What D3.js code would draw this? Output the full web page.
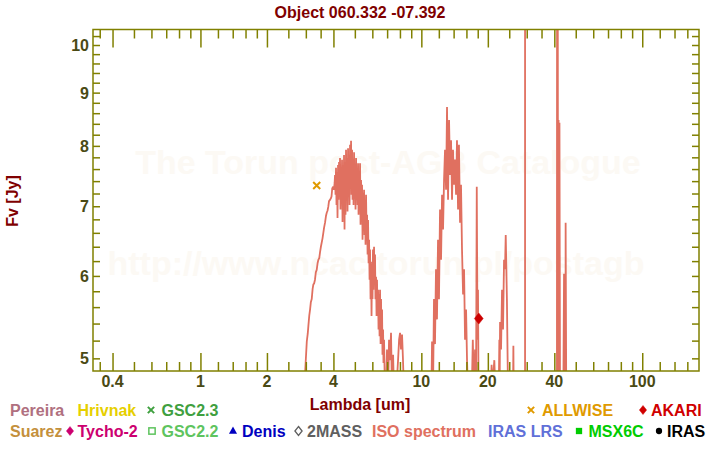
<!DOCTYPE html>
<html><head><meta charset="utf-8">
<script src="https://cdn.jsdelivr.net/npm/d3@7"></script>
<style>
html,body{margin:0;padding:0;background:#fff;}
svg{display:block;font-family:"Liberation Sans",Arial,Helvetica,sans-serif;font-weight:bold;}
</style></head>
<body>
<svg id="chart" width="720" height="450"></svg>
<script>
// ---------------- DATA ----------------
const title = "Object 060.332 -07.392";
const xLabel = "Lambda [um]";
const yLabel = "Fv [Jy]";
const xDomain = [0.3263, 180.7];
const yDomain = [4.862, 10.349];
const xMajorTicks = [0.4, 1, 2, 4, 10, 20, 40, 100];
const xTickLabels = ["0.4", "1", "2", "4", "10", "20", "40", "100"];
const xMinorTicks = [0.35, 0.5, 0.6, 0.7, 0.8, 0.9, 1.2, 1.4, 1.6, 1.8, 2.5, 3, 3.5,
  5, 6, 7, 8, 9, 12, 14, 16, 18, 25, 30, 35, 50, 60, 70, 80, 90, 120, 140, 160];
const yMajorTicks = [5, 6, 7, 8, 9, 10];
const yTickLabels = ["5", "6", "7", "8", "9", "10"];
const yMinorTicks = [5.2, 5.4, 5.6, 5.8, 6.2, 6.4, 6.6, 6.8, 7.2, 7.4, 7.6, 7.8,
  8.2, 8.4, 8.6, 8.8, 9.2, 9.4, 9.6, 9.8, 10.2];

// photometry
const allwiseWave = [3.36];
const allwiseFlux = [7.33];
const akariWave = [18.2];
const akariFlux = [5.46];

// ISO spectrum (wavelength um, flux Jy)
const isoWave = [
 2.96, 2.98, 3.03, 3.06, 3.08, 3.11, 3.135, 3.16, 3.19, 3.22, 3.245, 3.27, 3.30, 3.33, 3.36, 3.39, 3.42, 3.45, 3.478, 3.51, 3.54, 3.57, 3.60, 3.63, 3.665, 3.70, 3.73, 3.76, 3.79, 3.82, 3.86, 3.89, 3.92, 3.95, 3.99, 4.02, 4.05,
 4.067, 4.088, 4.109, 4.13, 4.152, 4.174, 4.196, 4.218, 4.240, 4.262, 4.284, 4.306, 4.329, 4.352, 4.375, 4.398, 4.421, 4.444, 4.467, 4.491, 4.514, 4.537, 4.561, 4.585, 4.609, 4.633, 4.658, 4.682, 4.707, 4.731, 4.756, 4.781, 4.806, 4.831, 4.857, 4.882, 4.908, 4.933, 4.959, 4.985, 5.011, 5.037, 5.064, 5.090, 5.117, 5.143, 5.170, 5.197, 5.224, 5.251, 5.279, 5.306, 5.334, 5.362, 5.390, 5.418,
 5.45, 5.475, 5.504, 5.53, 5.56, 5.59, 5.619, 5.65, 5.68, 5.71, 5.738, 5.77, 5.80, 5.83, 5.858, 5.89, 5.92, 5.95, 5.982, 6.01, 6.04, 6.07, 6.108, 6.14, 6.17, 6.20, 6.237, 6.27, 6.30, 6.33, 6.368, 6.40, 6.43, 6.47, 6.502, 6.54, 6.57, 6.60, 6.64, 6.67, 6.71, 6.74, 6.779, 6.85,
 6.922, 6.99, 7.068, 7.14, 7.217, 7.29, 7.369, 7.45, 7.524, 7.68, 7.845, 7.93, 8.01, 8.09, 8.178, 8.26, 8.351, 8.5,
 10.8, 11.1, 11.18, 11.3, 11.41, 11.53, 11.65, 11.77, 11.90, 12.02, 12.15, 12.28, 12.41, 12.54, 12.67, 12.80, 12.94, 13.07, 13.21, 13.35, 13.49, 13.63, 13.77, 13.91, 14.06, 14.20, 14.36, 14.50, 14.66, 14.80, 14.97, 15.12, 15.28, 15.45, 15.61, 15.77, 15.94, 16.10, 16.27,
 16.9, 17.1, 17.32, 17.5, 17.69, 17.82, 17.96, 18.05, 18.16,
 20.6, 20.8, 21.0, 21.4, 21.6,
 22.4, 22.55, 22.62, 22.72, 22.95, 23.19, 23.43, 23.68, 23.92, 24.1, 24.4, 24.55, 24.69,
 26.0, 26.1, 26.2,
 29.48, 29.48, 29.48, 41.1,
 41.15, 41.3, 41.45, 41.6, 41.8, 42.02, 42.2, 42.46, 42.6, 43.9, 44.26, 44.5, 44.95, 45.0, 45.3
];
const isoFlux = [
 4.60, 4.86, 5.19, 5.28, 5.37, 5.50, 5.57, 5.66, 5.70, 5.83, 5.89, 5.90, 5.95, 6.05, 6.08, 6.17, 6.22, 6.24, 6.32, 6.40, 6.46, 6.52, 6.60, 6.68, 6.75, 6.85, 6.90, 6.93, 6.99, 7.08, 7.10, 7.12, 7.15, 7.28, 7.31, 7.26, 7.37,
 7.50, 7.18, 7.62, 7.02, 7.55, 6.82, 7.67, 7.10, 7.72, 7.26, 7.79, 6.95, 7.59, 7.18, 7.76, 6.76, 7.67, 7.02, 7.84, 6.65, 7.72, 6.87, 7.93, 7.10, 7.79, 6.92, 7.96, 7.26, 7.84, 7.02, 8.02, 7.34, 8.09, 7.18, 7.93, 7.10, 7.76, 7.02, 7.89, 7.18, 7.67, 6.95, 7.79, 7.10, 7.59, 7.02, 7.70, 6.87, 7.50, 7.05, 7.70, 6.72, 7.42, 6.95, 7.34, 6.50,
 7.21, 6.70, 7.26, 6.57, 7.02, 6.43, 7.18, 6.62, 6.87, 6.29, 6.79, 6.17, 6.50, 5.95, 6.36, 5.70, 6.15, 5.49, 6.19, 5.70, 6.36, 5.82, 6.40, 5.89, 6.29, 5.70, 5.99, 5.49, 5.95, 5.57, 5.82, 5.33, 5.76, 5.25, 5.82, 5.16, 5.70, 5.21, 5.57, 5.04, 5.33, 4.95, 5.21, 4.60,
 4.60, 5.10, 4.60, 5.21, 4.98, 5.29, 4.60, 5.04, 4.60, 4.60, 4.98, 5.21, 5.29, 5.10, 5.27, 4.98, 4.60, 4.50,
 4.50, 4.60, 5.19, 4.70, 5.70, 5.16, 6.09, 5.45, 6.50, 5.70, 6.95, 6.22, 7.18, 6.65, 7.42, 7.93, 7.26, 8.72, 7.10, 8.47, 7.50, 8.10, 7.10, 7.93, 7.34, 7.76, 7.18, 8.10, 6.95, 8.02, 6.75, 7.34, 6.36, 5.76, 6.09, 5.21, 5.57, 4.98, 4.60,
 4.60, 5.21, 4.60, 5.10, 4.70, 7.31, 5.21, 5.82, 4.60,
 4.60, 4.93, 4.70, 4.98, 4.70,
 4.60, 5.21, 4.70, 5.42, 5.10, 5.82, 5.33, 6.22, 6.09, 6.57, 5.70, 5.10, 4.60,
 4.60, 5.14, 4.60,
 4.50, 12.0, 4.50, 4.50,
 12.0, 4.50, 12.0, 4.50, 8.47, 4.60, 8.42, 4.50, 4.50, 4.50, 6.03, 4.50, 4.50, 6.75, 4.50
];

// legend
const legendNames = ["Pereira", "Hrivnak", "GSC2.3", "ALLWISE", "AKARI",
  "Suarez", "Tycho-2", "GSC2.2", "Denis", "2MASS", "ISO spectrum", "IRAS LRS", "MSX6C", "IRAS"];
const legendColors = ["#b07080", "#e6cf00", "#3fa03f", "#e09a00", "#d00000",
  "#c4903c", "#cc0070", "#5ec45e", "#0000c0", "#606060", "#e07060", "#6070d8", "#00cc00", "#000000"];
const legendSymbols = ["none", "none", "cross", "cross", "diamond",
  "none", "diamond", "square-open", "triangle", "diamond-open", "none", "none", "square", "circle"];

// ---------------- LAYOUT ----------------
const W = 720, H = 450;
const plot = {left: 93, right: 699, top: 29.5, bottom: 371};
const axisColor = "#808000";
const tickTextColor = "#4a4a14";
const titleColor = "#800000";
const isoColor = "#e07060";
// legend layout: [textX, symbolX, baselineY]
const legendLayout = [
  [10, 0, 416], [77.5, 0, 416], [161.5, 151, 416], [542, 531, 416], [651, 643, 416],
  [10, 0, 437], [77.5, 70, 437], [161.5, 152, 437], [242, 233, 437], [307, 298.5, 437],
  [372, 0, 437], [488, 0, 437], [588.5, 579, 437], [667, 659, 437]
];

const svg = d3.select("#chart");
const x = d3.scaleLog().domain(xDomain).range([plot.left, plot.right]);
const y = d3.scaleLog().domain(yDomain).range([plot.bottom, plot.top]);

// watermark
svg.append("text").attr("x", 388).attr("y", 174).attr("text-anchor", "middle")
  .attr("font-size", 34).attr("fill", "#fcf9f4").text("The Torun post-AGB Catalogue");
svg.append("text").attr("x", 376).attr("y", 275).attr("text-anchor", "middle")
  .attr("font-size", 34).attr("fill", "#fcf9f4").text("http://www.ncac.torun.pl/postagb");

// clip
svg.append("clipPath").attr("id", "clip").append("rect")
  .attr("x", plot.left).attr("y", plot.top)
  .attr("width", plot.right - plot.left).attr("height", plot.bottom - plot.top);

// ISO spectrum
const isoData = isoWave.map((w, i) => [w, isoFlux[i]]);
svg.append("path").attr("clip-path", "url(#clip)")
  .attr("d", d3.line().x(d => x(d[0])).y(d => y(d[1]))(isoData))
  .attr("fill", "none").attr("stroke", isoColor).attr("stroke-width", 1.8)
  .attr("stroke-linejoin", "bevel");

// axes (ticks inward)
const gAx = svg.append("g");
function addXAxis(ypos, dir) {
  const axMaj = d3.axisBottom(x).tickValues(xMajorTicks).tickSize(18 * dir).tickFormat("");
  const axMin = d3.axisBottom(x).tickValues(xMinorTicks).tickSize(9 * dir).tickFormat("");
  [axMaj, axMin].forEach(a => {
    const g = gAx.append("g").attr("transform", `translate(0,${ypos})`).call(a);
    g.select(".domain").remove();
    g.selectAll("line").attr("stroke", axisColor).attr("stroke-width", 1.5);
  });
}
addXAxis(plot.bottom, -1);
addXAxis(plot.top, 1);
function addYAxis(xpos, dir) {
  const ax = d3.axisLeft(y).tickValues(yMajorTicks.concat(yMinorTicks)).tickSize(7 * dir).tickFormat("");
  const g = gAx.append("g").attr("transform", `translate(${xpos},0)`).call(ax);
  g.select(".domain").remove();
  g.selectAll("line").attr("stroke", axisColor).attr("stroke-width", 1.5);
}
addYAxis(plot.left, -1);
addYAxis(plot.right, 1);
svg.append("rect").attr("x", plot.left).attr("y", plot.top)
  .attr("width", plot.right - plot.left).attr("height", plot.bottom - plot.top)
  .attr("fill", "none").attr("stroke", axisColor).attr("stroke-width", 1.5);

// tick labels
svg.append("g").selectAll("text").data(xMajorTicks).join("text")
  .attr("x", d => x(d)).attr("y", 387).attr("text-anchor", "middle")
  .attr("font-size", 16).attr("fill", tickTextColor)
  .text((d, i) => xTickLabels[i]);
svg.append("g").selectAll("text").data(yMajorTicks).join("text")
  .attr("x", 89).attr("y", d => y(d) + 6).attr("text-anchor", "end")
  .attr("font-size", 16).attr("fill", tickTextColor)
  .text((d, i) => yTickLabels[i]);

// titles
svg.append("text").attr("x", 360).attr("y", 18).attr("text-anchor", "middle")
  .attr("font-size", 16).attr("fill", titleColor).text(title);
svg.append("text").attr("x", 360).attr("y", 410).attr("text-anchor", "middle")
  .attr("font-size", 16).attr("fill", titleColor).text(xLabel);
svg.append("text").attr("transform", "translate(18,201) rotate(-90)").attr("text-anchor", "middle")
  .attr("font-size", 16).attr("fill", titleColor).text(yLabel);

// symbols
function drawSymbol(g, type, cx, cy, color, size) {
  const s = size || 1;
  if (type === "cross") {
    g.append("path").attr("d", `M${cx-3.5*s},${cy-3.5*s}L${cx+3.5*s},${cy+3.5*s}M${cx-3.5*s},${cy+3.5*s}L${cx+3.5*s},${cy-3.5*s}`)
      .attr("stroke", color).attr("stroke-width", 2).attr("fill", "none");
  } else if (type === "diamond" || type === "diamond-open") {
    g.append("path").attr("d", `M${cx},${cy-5*s}L${cx+4*s},${cy}L${cx},${cy+5*s}L${cx-4*s},${cy}Z`)
      .attr("fill", type === "diamond" ? color : "#fff").attr("stroke", color).attr("stroke-width", type === "diamond" ? 0.5 : 1.3);
  } else if (type === "square" || type === "square-open") {
    g.append("rect").attr("x", cx - 3.5*s).attr("y", cy - 3.5*s).attr("width", 7*s).attr("height", 7*s)
      .attr("fill", type === "square" ? color : "#fff").attr("stroke", color).attr("stroke-width", type === "square" ? 0 : 1.5);
  } else if (type === "triangle") {
    g.append("path").attr("d", `M${cx},${cy-5*s}L${cx+4.5*s},${cy+3*s}L${cx-4.5*s},${cy+3*s}Z`).attr("fill", color);
  } else if (type === "circle") {
    g.append("circle").attr("cx", cx).attr("cy", cy).attr("r", 3.5*s).attr("fill", color);
  }
}

// photometry points
const gPts = svg.append("g");
allwiseWave.forEach((w, i) => drawSymbol(gPts, "cross", x(w), y(allwiseFlux[i]), "#e09a00"));
akariWave.forEach((w, i) => drawSymbol(gPts, "diamond", x(w), y(akariFlux[i]), "#cc0000", 1.1));

// legend
const gLeg = svg.append("g");
legendNames.forEach((name, i) => {
  const [tx, sx, by] = legendLayout[i];
  if (legendSymbols[i] !== "none") drawSymbol(gLeg, legendSymbols[i], sx, by - 6, legendColors[i], 0.9);
  gLeg.append("text").attr("x", tx).attr("y", by).attr("font-size", 16)
    .attr("fill", legendColors[i]).text(name);
});
</script>
</body></html>
